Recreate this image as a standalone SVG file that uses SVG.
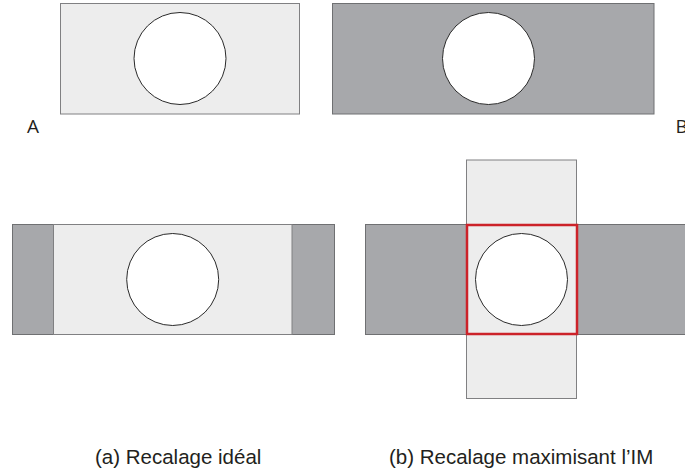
<svg xmlns="http://www.w3.org/2000/svg" width="685" height="470" viewBox="0 0 685 470">
<style>
.light{fill:#ededed;stroke:#808082;stroke-width:1}
.dark{fill:#a7a8ab;stroke:#6f7072;stroke-width:1}
.hole{fill:#ffffff;stroke:#2a2a2a;stroke-width:1}
.red{fill:none;stroke:#cc2229;stroke-width:2.5}
.lbl{font-family:"Open Sans","Liberation Sans",sans-serif;font-size:19px;fill:#231f20}
.cap{font-family:"Liberation Sans",Arial,sans-serif;font-size:20.5px;fill:#231f20}
</style>
<rect width="685" height="470" fill="#ffffff"/>
<g id="imageA">
<rect class="light" x="60.5" y="3.5" width="239" height="110.5"/>
<circle class="hole" cx="180" cy="58.5" r="46"/>
<text class="lbl" x="27" y="133">A</text>
</g>
<g id="imageB">
<rect class="dark" x="332.5" y="3.5" width="321.5" height="110.5"/>
<circle class="hole" cx="488.5" cy="58.5" r="46"/>
<text class="lbl" x="675.5" y="133">B</text>
</g>
<g id="ideal">
<rect class="dark" x="12.5" y="224.5" width="322" height="110"/>
<rect class="light" x="53.5" y="224.5" width="238.5" height="110"/>
<circle class="hole" cx="172.7" cy="279.5" r="46"/>
<text class="cap" x="95" y="463.5">(a) Recalage idéal</text>
</g>
<g id="maxIM">
<rect class="dark" x="365.5" y="224.5" width="322" height="110"/>
<rect class="light" x="466.5" y="160" width="110" height="238.5"/>
<rect class="red" x="467" y="225" width="110" height="109"/>
<circle class="hole" cx="521.5" cy="279.5" r="46"/>
<text class="cap" x="389" y="463.5">(b) Recalage maximisant l’IM</text>
</g>
<g id="connectors"/>
</svg>
